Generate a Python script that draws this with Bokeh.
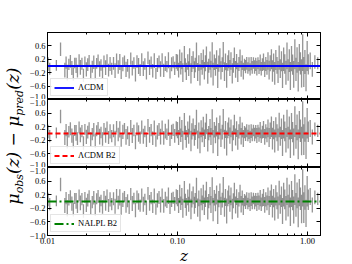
from bokeh.plotting import figure
from bokeh.models import Range1d, FixedTicker, LinearAxis, LogAxis, Div, ColumnDataSource
from bokeh.layouts import row, column
from bokeh.embed import file_html
from bokeh.resources import INLINE

# ---- data: Hubble-diagram residuals mu_obs - mu_pred with 1-sigma errors ----
z_low = [0.0101, 0.0104, 0.0117, 0.0126, 0.0136, 0.0139, 0.0142, 0.0146, 0.0150, 0.0154,
         0.0158, 0.0162, 0.0166, 0.0170, 0.0175, 0.0179, 0.0184, 0.0189, 0.0194, 0.0199,
         0.0204, 0.0209, 0.0215, 0.0221, 0.0227, 0.0233, 0.0239, 0.0245, 0.0252, 0.0258,
         0.0265, 0.0272, 0.0280, 0.0287, 0.0295, 0.0303, 0.0312]
res_low = [0.06, -0.08, 0.02, 0.50, -0.12, 0.10, -0.20, 0.05, 0.14, -0.06,
           -0.24, 0.09, 0.02, -0.15, 0.18, -0.04, 0.07, -0.28, 0.12, -0.10,
           0.04, 0.16, -0.18, -0.02, 0.11, -0.22, 0.08, 0.15, -0.09, 0.03,
           -0.16, 0.13, -0.05, 0.19, -0.12, 0.06, -0.08]
err_low = [0.20, 0.18, 0.16, 0.20, 0.22, 0.18, 0.24, 0.17, 0.19, 0.21,
           0.20, 0.16, 0.23, 0.19, 0.17, 0.22, 0.18, 0.20, 0.16, 0.21,
           0.19, 0.17, 0.22, 0.18, 0.20, 0.21, 0.16, 0.19, 0.23, 0.17,
           0.20, 0.18, 0.22, 0.16, 0.19, 0.21, 0.18]

z_mid = [0.0322, 0.0331, 0.0340, 0.0350, 0.0360, 0.0369, 0.0380, 0.0391, 0.0402, 0.0413,
         0.0425, 0.0437, 0.0449, 0.0462, 0.0475, 0.0488, 0.0502, 0.0516, 0.0531, 0.0546,
         0.0561, 0.0577, 0.0593, 0.0610, 0.0627, 0.0645, 0.0663, 0.0682, 0.0701, 0.0721,
         0.0741, 0.0762, 0.0784, 0.0806, 0.0829, 0.0852, 0.0876, 0.0901, 0.0926, 0.0952,
         0.0979]
res_mid = [0.08, -0.14, 0.20, -0.03, 0.12, -0.21, 0.05, 0.15, -0.10, 0.02,
           -0.17, 0.22, -0.06, 0.09, -0.25, 0.13, 0.00, -0.12, 0.18, -0.08,
           0.06, -0.19, 0.24, -0.04, 0.10, -0.14, 0.16, -0.22, 0.03, 0.12,
           -0.09, 0.20, -0.13, 0.07, -0.02, 0.17, -0.18, 0.05, 0.11, -0.07,
           0.14]
err_mid = [0.19, 0.22, 0.17, 0.20, 0.24, 0.18, 0.21, 0.16, 0.23, 0.19,
           0.20, 0.18, 0.22, 0.17, 0.21, 0.19, 0.24, 0.18, 0.20, 0.22,
           0.17, 0.21, 0.19, 0.23, 0.18, 0.20, 0.22, 0.17, 0.21, 0.19,
           0.23, 0.18, 0.20, 0.22, 0.17, 0.24, 0.19, 0.21, 0.18, 0.20,
           0.22]

z_high = [0.100, 0.102, 0.104, 0.106, 0.108, 0.110, 0.113, 0.115, 0.117, 0.120,
          0.122, 0.124, 0.127, 0.129, 0.132, 0.135, 0.137, 0.140, 0.143, 0.146,
          0.149, 0.152, 0.155, 0.158, 0.161, 0.164, 0.167, 0.171, 0.174, 0.178,
          0.181, 0.185, 0.188, 0.192, 0.196, 0.200, 0.204, 0.208, 0.212, 0.216,
          0.221, 0.225, 0.230, 0.234, 0.239, 0.244, 0.248, 0.253, 0.258, 0.264,
          0.269, 0.274, 0.280, 0.285, 0.291, 0.297, 0.303, 0.309, 0.315, 0.321,
          0.328, 0.334, 0.341, 0.348, 0.355, 0.362, 0.369, 0.376, 0.384, 0.392]
res_high = [0.10, -0.12, 0.22, -0.05, 0.15, -0.20, 0.30, 0.02, -0.16, 0.12,
            -0.08, 0.25, -0.22, 0.06, 0.18, -0.11, 0.03, 0.35, -0.18, 0.09,
            -0.26, 0.14, -0.04, 0.21, -0.14, 0.08, 0.28, -0.20, 0.01, 0.16,
            -0.09, 0.33, -0.24, 0.11, -0.03, 0.19, -0.30, 0.07, 0.24, -0.13,
            0.04, 0.38, -0.17, 0.12, -0.28, 0.09, 0.20, -0.06, 0.15, -0.22,
            0.02, 0.27, -0.10, 0.13, -0.19, 0.06, 0.22, -0.08, 0.10, -0.15,
            0.04, -0.02, 0.08, -0.06, 0.05, -0.10, 0.07, -0.04, 0.09, -0.03]
err_high = [0.24, 0.22, 0.27, 0.20, 0.25, 0.28, 0.30, 0.21, 0.26, 0.23,
            0.22, 0.28, 0.30, 0.24, 0.26, 0.25, 0.22, 0.35, 0.27, 0.23,
            0.32, 0.25, 0.22, 0.28, 0.26, 0.24, 0.30, 0.33, 0.21, 0.27,
            0.25, 0.38, 0.34, 0.23, 0.26, 0.28, 0.36, 0.24, 0.29, 0.27,
            0.22, 0.34, 0.28, 0.25, 0.37, 0.23, 0.27, 0.24, 0.26, 0.30,
            0.22, 0.28, 0.25, 0.23, 0.29, 0.21, 0.27, 0.24, 0.22, 0.25,
            0.18, 0.20, 0.19, 0.17, 0.21, 0.18, 0.20, 0.19, 0.17, 0.20]

z_far = [0.400, 0.408, 0.416, 0.424, 0.433, 0.441, 0.450, 0.459, 0.469, 0.478,
         0.488, 0.497, 0.507, 0.517, 0.528, 0.538, 0.549, 0.560, 0.571, 0.583,
         0.594, 0.606, 0.618, 0.631, 0.643, 0.656, 0.669, 0.683, 0.696, 0.710,
         0.725, 0.739, 0.754, 0.769, 0.784, 0.800, 0.816, 0.832, 0.849, 0.866,
         0.883, 0.901, 0.919, 0.937, 0.956, 0.975, 0.995, 1.015, 1.050, 1.090,
         1.140, 1.200]
res_far = [0.05, -0.06, 0.08, -0.03, 0.10, -0.08, 0.04, 0.12, -0.10, 0.06,
           -0.04, 0.15, -0.12, 0.08, 0.20, -0.15, 0.10, -0.22, 0.18, 0.02,
           -0.18, 0.25, -0.08, 0.14, -0.28, 0.20, 0.06, -0.20, 0.30, -0.12,
           0.16, -0.30, 0.22, 0.04, -0.25, 0.35, -0.10, 0.18, -0.32, 0.26,
           0.08, -0.22, 0.40, -0.18, 0.12, -0.35, 0.30, 0.05, 0.15, -0.10,
           0.12, 0.08]
err_far = [0.20, 0.22, 0.18, 0.21, 0.24, 0.20, 0.19, 0.25, 0.23, 0.21,
           0.22, 0.26, 0.28, 0.24, 0.30, 0.32, 0.27, 0.34, 0.30, 0.25,
           0.33, 0.36, 0.28, 0.30, 0.38, 0.35, 0.29, 0.36, 0.40, 0.32,
           0.34, 0.42, 0.38, 0.30, 0.40, 0.45, 0.35, 0.38, 0.44, 0.40,
           0.33, 0.42, 0.55, 0.45, 0.36, 0.40, 0.45, 0.30, 0.25, 0.22,
           0.20, 0.18]

model_names = ["ΛCDM", "ΛCDM B2", "NALPL B2"]
model_z = [0.01, 1.26]
model_resid = [0.0, 0.0]

y_ticks = [-1.0, -0.6, -0.2, 0.2, 0.6]
y_tick_labels = ["−1.0", "−0.6", "−0.2", "0.2", "0.6"]
x_ticks = [0.01, 0.1, 1.0]
x_tick_labels = ["0.01", "0.10", "1.00"]
x_minor = [0.02, 0.03, 0.04, 0.05, 0.06, 0.07, 0.08, 0.09,
           0.2, 0.3, 0.4, 0.5, 0.6, 0.7, 0.8, 0.9]

z_all = z_low + z_mid + z_high + z_far
res_all = res_low + res_mid + res_high + res_far
err_all = err_low + err_mid + err_high + err_far
src = ColumnDataSource(dict(
    z=z_all,
    lo=[r - e for r, e in zip(res_all, err_all)],
    hi=[r + e for r, e in zip(res_all, err_all)],
))

TICK_FONT = "Liberation Serif"
TICK_SIZE = "8.5px"
x_range = Range1d(0.01, 1.26)


def base_axis(ax):
    ax.axis_line_color = "black"
    ax.axis_line_width = 1
    ax.major_tick_line_color = "black"
    ax.minor_tick_line_color = "black"
    ax.major_tick_out = 0
    ax.minor_tick_out = 0
    ax.major_label_standoff = 0
    ax.axis_label = None


def labelled_axis(ax, ticks, labels, minor):
    base_axis(ax)
    ax.ticker = FixedTicker(ticks=ticks, minor_ticks=minor)
    ax.major_label_overrides = {t: l for t, l in zip(ticks, labels)}
    ax.major_tick_in = 4
    ax.minor_tick_in = 2
    ax.major_label_text_font = TICK_FONT
    ax.major_label_text_font_size = TICK_SIZE
    ax.major_label_text_color = "black"
    ax.major_label_standoff = 2


def tick_only_axis(ax, marks, length):
    # label-free axis: marks drawn as (unlabelled) minor ticks
    base_axis(ax)
    ax.ticker = FixedTicker(ticks=[], minor_ticks=marks)
    ax.minor_tick_in = length
    ax.major_tick_in = 0


def add_tick_axes(p, side, log, major, minor):
    Ax = LogAxis if log else LinearAxis
    a = Ax()
    tick_only_axis(a, major, 4)
    p.add_layout(a, side)
    if minor:
        b = Ax()
        tick_only_axis(b, minor, 2)
        p.add_layout(b, side)


colors = ["blue", "red", "green"]
dashes = ["solid", "5 3", "9 3 2 3"]
frame_heights = [67, 68, 68]
tops = [32, 0, 0]
bottoms = [0, 0, 24]

panels = []
for i in range(3):
    p = figure(frame_width=273, frame_height=frame_heights[i], x_axis_type="log",
               x_range=x_range, y_range=Range1d(-1.0, 1.0),
               output_backend="svg", toolbar_location=None,
               x_axis_location=None, y_axis_location=None,
               min_border_left=18, min_border_right=28,
               min_border_top=tops[i], min_border_bottom=bottoms[i])
    p.grid.visible = False
    p.outline_line_color = "black"
    p.outline_line_width = 1
    p.background_fill_color = "white"
    p.border_fill_color = "white"

    yax = LinearAxis()
    if i == 0:
        labelled_axis(yax, y_ticks, y_tick_labels, [])
    else:
        # the panel above has its "−1.0" label centred on the shared edge;
        # its lower half is drawn here so that it is not cut by the canvas edge
        labelled_axis(yax, y_ticks + [1.0], y_tick_labels + ["−1.0"], [])
    p.add_layout(yax, "left")
    add_tick_axes(p, "right", False, y_ticks, [])
    add_tick_axes(p, "above", True, x_ticks, x_minor)
    if i == 2:
        xax = LogAxis()
        labelled_axis(xax, x_ticks, x_tick_labels, x_minor)
        xax.axis_label = "z"
        xax.axis_label_text_font = "DejaVu Serif"
        xax.axis_label_text_font_style = "italic"
        xax.axis_label_text_font_size = "15px"
        xax.axis_label_text_color = "black"
        xax.axis_label_standoff = 0
        p.add_layout(xax, "below")
    else:
        add_tick_axes(p, "below", True, x_ticks, x_minor)

    p.segment(x0="z", y0="lo", x1="z", y1="hi", source=src,
              line_color="#707070", line_alpha=0.75, line_width=1.3)
    p.line(model_z, model_resid, line_color=colors[i], line_width=1.8,
           line_dash=dashes[i], legend_label=model_names[i])

    lg = p.legend[0]
    lg.location = "bottom_left"
    lg.margin = 3
    lg.padding = 3
    lg.spacing = 0
    lg.glyph_width = 20
    lg.glyph_height = 9
    lg.label_height = 9
    lg.label_standoff = 4
    lg.label_text_font = TICK_FONT
    lg.label_text_font_size = TICK_SIZE
    lg.label_text_color = "black"
    lg.border_line_color = "#cccccc"
    lg.border_line_width = 1
    lg.background_fill_alpha = 0.85
    panels.append(p)

ylabel = Div(width=17, height=259, text=(
    '<div style="position:relative;width:17px;height:259px;">'
    '<span style="position:absolute;left:10px;top:131px;'
    'transform:translate(-50%,-50%) rotate(-90deg);white-space:nowrap;'
    "font-family:'DejaVu Serif';font-style:italic;font-size:17px;line-height:1;color:black;\">"
    'μ<sub style="font-size:11px;">obs</sub>(z) − μ<sub style="font-size:11px;">pred</sub>(z)'
    '</span></div>'))

layout = row(ylabel, column(*panels, spacing=0), spacing=0)
open("out.html", "w").write(file_html(layout, INLINE))
